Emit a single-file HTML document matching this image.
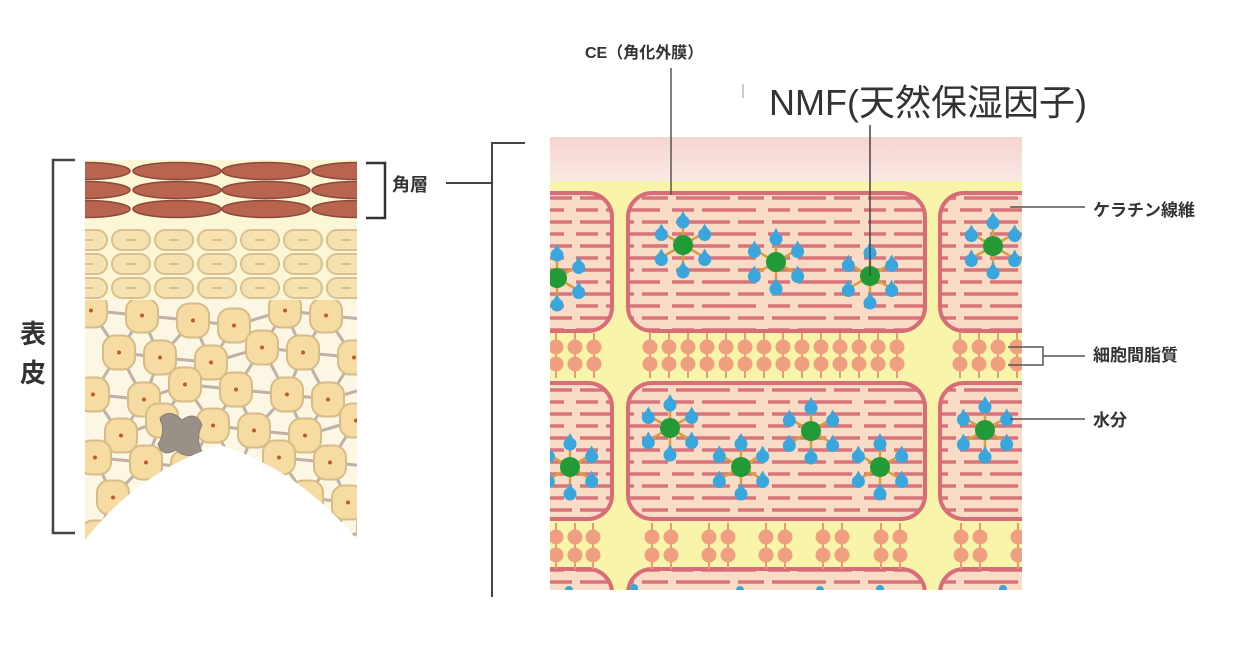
<!DOCTYPE html>
<html><head><meta charset="utf-8"><style>
html,body{margin:0;padding:0;background:#fff;width:1256px;height:652px;overflow:hidden;}
svg{display:block}
text{font-family:"Liberation Sans","Noto Sans CJK JP",sans-serif;fill:#333}
</style></head><body>
<svg id="s" width="1256" height="652" viewBox="0 0 1256 652" xmlns="http://www.w3.org/2000/svg">
<defs>
<pattern id="str" x="0" y="0" width="96" height="24" patternUnits="userSpaceOnUse">
<rect width="96" height="24" fill="#f8dcc6"/>
<line x1="4" y1="6" x2="58" y2="6" stroke="#d9737c" stroke-width="3.5"/>
<line x1="66" y1="6" x2="92" y2="6" stroke="#d9737c" stroke-width="3.5"/>
<line x1="0" y1="18" x2="22" y2="18" stroke="#d9737c" stroke-width="3.5"/>
<line x1="30" y1="18" x2="84" y2="18" stroke="#d9737c" stroke-width="3.5"/>
</pattern>
<linearGradient id="pk" x1="0" y1="0" x2="0" y2="1"><stop offset="0" stop-color="#f6d4d0"/><stop offset="1" stop-color="#fbe8e4"/></linearGradient>
<clipPath id="rc"><rect x="550" y="137" width="472" height="453"/></clipPath>
<clipPath id="lc"><path d="M85 300 H357 V540 Q300 470 220 445 Q140 470 85 540 Z"/></clipPath>
<clipPath id="lc2"><rect x="85" y="160" width="272" height="140"/></clipPath>
</defs>
<rect x="85" y="160" width="272" height="140" fill="#fbf6d6"/>
<g id="left" clip-path="url(#lc2)"></g>
<path d="M85 300 H357 V540 Q300 470 220 445 Q140 470 85 540 Z" fill="#fbf7e4"/>
<g id="spin" clip-path="url(#lc)"></g>
<path d="M75 160 H53 V533 H75" fill="none" stroke="#444" stroke-width="2.5"/>
<text x="20" y="343" font-size="26" font-weight="bold">表</text>
<text x="20" y="382" font-size="26" font-weight="bold">皮</text>
<path d="M366 163 H385 V218 H366" fill="none" stroke="#333" stroke-width="2.5"/>
<text x="392" y="191" font-size="18" font-weight="bold">角層</text>
<line x1="446" y1="183" x2="492" y2="183" stroke="#444" stroke-width="2"/>
<path d="M525 143 H492 V597" fill="none" stroke="#444" stroke-width="2"/>
<g clip-path="url(#rc)">
<rect x="550" y="137" width="472" height="453" fill="#f8f4aa"/>
<rect x="550" y="137" width="472" height="44" fill="url(#pk)"/>
<g id="cells"></g>
</g>
<text x="585" y="58" font-size="16" font-weight="bold" fill="#444">CE（角化外膜）</text>
<line x1="671" y1="68" x2="671" y2="195" stroke="#555" stroke-width="1.5"/>
<line x1="743" y1="84" x2="743" y2="98" stroke="#999" stroke-width="1"/>
<text x="769" y="115" font-size="36" fill="#111">NMF(天然保湿因子)</text>
<line x1="870" y1="125" x2="870" y2="276" stroke="#444" stroke-width="1.5"/>
<line x1="1010" y1="207" x2="1085" y2="207" stroke="#555" stroke-width="1.5"/>
<text x="1093" y="216" font-size="17" font-weight="bold" fill="#444">ケラチン線維</text>
<path d="M1008 347 H1043 V365 H1008 M1043 356 H1085" fill="none" stroke="#555" stroke-width="1.5"/>
<text x="1093" y="361" font-size="17" font-weight="bold" fill="#444">細胞間脂質</text>
<line x1="1010" y1="419" x2="1085" y2="419" stroke="#555" stroke-width="1.5"/>
<text x="1093" y="426" font-size="17" font-weight="bold" fill="#444">水分</text>
</svg>
<script>
var NS="http://www.w3.org/2000/svg";
function el(p,t,a){var e=document.createElementNS(NS,t);for(var k in a)e.setAttribute(k,a[k]);p.appendChild(e);return e;}
var L=document.getElementById('left');
for(var r=0;r<3;r++){var y=171+r*19;[86,177,266,356].forEach(function(cx){
el(L,'ellipse',{cx:cx,cy:y,rx:44,ry:8.5,fill:'#b8644f',stroke:'#8a4a3a','stroke-width':1.5});});}
for(var r=0;r<3;r++){for(var i=0;i<7;i++){var cx=88+i*43,cy=240+r*24;
el(L,'rect',{x:cx-19,y:cy-10,width:38,height:20,rx:10,fill:'#f6e2b0',stroke:'#d8c090','stroke-width':2});
el(L,'line',{x1:cx-5,y1:cy,x2:cx+5,y2:cy,stroke:'#d9b080','stroke-width':1.5});}}
var S=document.getElementById('spin');var pts=[];
var rows=[318,355,392,428,465,500,535];
rows.forEach(function(y,ri){for(var i=0;i<7;i++){var x=95+i*47+(ri%2?22:0)+((i*7+ri*3)%5-2)*2;var yy=y+((i*5+ri)%4-1.5)*5;pts.push([x,yy]);}});
pts.forEach(function(p){pts.forEach(function(q){var d=Math.hypot(p[0]-q[0],p[1]-q[1]);if(d>1&&d<55&&p[0]<q[0]+1)el(S,'line',{x1:p[0],y1:p[1],x2:q[0],y2:q[1],stroke:'#c0b0a8','stroke-width':3});});});
pts.forEach(function(p){el(S,'rect',{x:p[0]-16,y:p[1]-17,width:32,height:34,rx:12,fill:'#f6dca2',stroke:'#d6bd88','stroke-width':2});el(S,'circle',{cx:p[0],cy:p[1],r:2,fill:'#c05a30'});});
el(S,'path',{d:'M160 418 Q170 408 182 420 Q196 410 202 425 Q195 438 202 452 Q186 460 176 450 Q162 458 158 444 Q166 432 160 418Z',fill:'#999088',stroke:'#888078'});
var C=document.getElementById('cells');
function cell(x,y,w,h){el(C,'rect',{x:x,y:y,width:w,height:h,rx:24,fill:'url(#str)',stroke:'#d86d79','stroke-width':4});}
[[193,331],[383,519],[569,700]].forEach(function(r){var h=r[1]-r[0];cell(490,r[0],122,h);cell(628,r[0],297,h);cell(940,r[0],160,h);});
function bead(x,y1,y2){el(C,'line',{x1:x,y1:y1-14,x2:x,y2:y2+14,stroke:'#e59a78','stroke-width':2});el(C,'circle',{cx:x,cy:y1,r:7.5,fill:'#f0a080'});el(C,'circle',{cx:x,cy:y2,r:7.5,fill:'#f0a080'});}
[556,575,594].concat([650,669,688,707,726,745,764,783,802,821,840,859,878,897]).concat([960,979,998,1017]).forEach(function(x){bead(x,347,364);});
[556,575,593,652,671,709,728,766,785,823,842,881,900,961,980,1018].forEach(function(x){bead(x,537,555);});
function nmf(cx,cy){for(var k=0;k<6;k++){var a=k*Math.PI/3+Math.PI/2;var x=cx+25*Math.cos(a),y=cy-25*Math.sin(a);
el(C,'line',{x1:cx,y1:cy,x2:x,y2:y,stroke:'#d6a040','stroke-width':2.5});}
for(var k=0;k<6;k++){var a=k*Math.PI/3+Math.PI/2;var x=cx+25*Math.cos(a),y=cy-25*Math.sin(a);
el(C,'circle',{cx:x,cy:y+2,r:6.5,fill:'#3aa6de'});el(C,'path',{d:'M'+(x-5)+' '+(y)+' L'+x+' '+(y-9)+' L'+(x+5)+' '+y+'Z',fill:'#3aa6de'});}
el(C,'circle',{cx:cx,cy:cy,r:10,fill:'#229a36'});}
[[683,245],[776,262],[870,276],[557,278],[993,246],[670,428],[741,467],[811,431],[880,467],[570,467],[985,430]].forEach(function(p){nmf(p[0],p[1]);});
[[569,590],[634,588],[740,590],[820,590],[880,589],[1003,589]].forEach(function(p){el(C,'circle',{cx:p[0],cy:p[1],r:4,fill:'#3aa6de'});});
</script>
</body></html>
